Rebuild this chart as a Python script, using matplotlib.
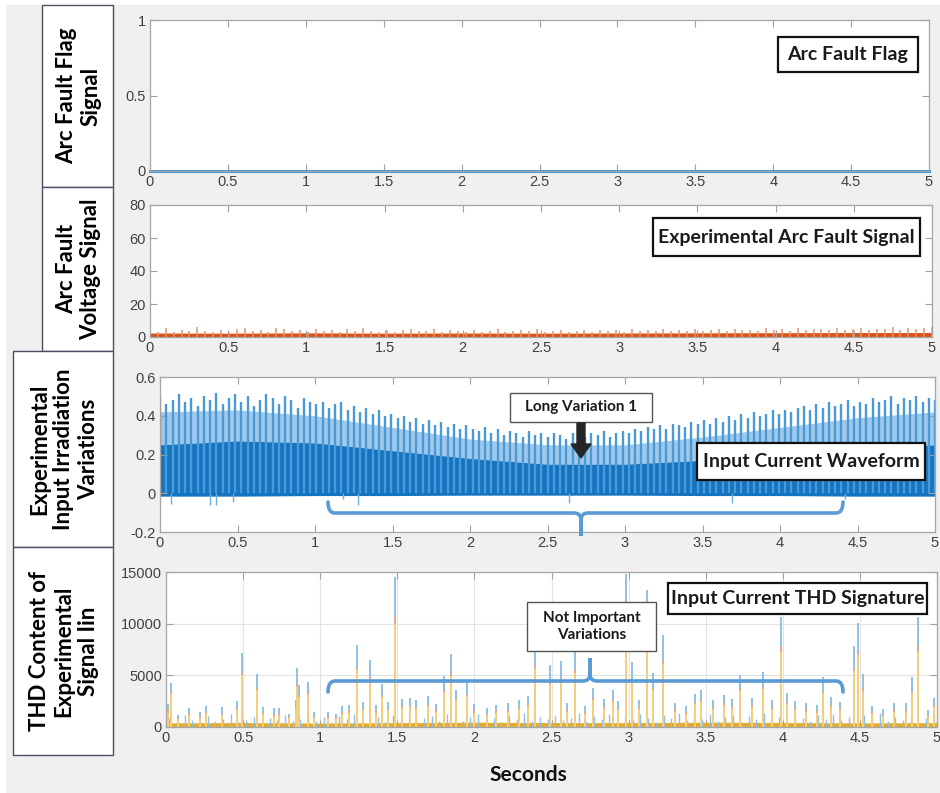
import numpy as np
import matplotlib
matplotlib.use("Agg")
import matplotlib.pyplot as plt
from matplotlib.patches import Rectangle, PathPatch, FancyArrow
from matplotlib.path import Path

# ---------------- data ----------------
x_ticks = [0, 0.5, 1, 1.5, 2, 2.5, 3, 3.5, 4, 4.5, 5]
x_ticklabels = ["0", "0.5", "1", "1.5", "2", "2.5", "3", "3.5", "4", "4.5", "5"]

# panel 1: arc fault flag
flag_t = [0, 5]
flag_v = [0, 0]
flag_yticks = [0, 0.5, 1]
flag_yticklabels = ["0", "0.5", "1"]

# panel 2: arc fault voltage (peaks of the noise, and the dense band top)
arc_peak = [4.8, 3.2, 5.6, 3.0, 4.1, 3.5, 5.9, 3.8, 3.1, 4.4,
            3.3, 4.9, 5.2, 3.6, 4.0, 3.2, 5.5, 4.6, 3.4, 4.2,
            3.1, 5.0, 3.7, 4.3, 3.0, 4.8, 3.5, 5.3, 3.9, 3.3,
            4.5, 3.2, 4.0, 5.1, 3.4, 3.8, 4.7, 3.1, 4.2, 3.6,
            3.3, 4.4, 3.0, 3.9, 4.6, 3.2, 3.7, 4.1, 3.4, 4.8,
            3.1, 3.6, 4.3, 3.3, 3.9, 4.5, 3.2, 4.0, 3.5, 4.2,
            3.3, 4.6, 3.8, 4.1, 3.4, 4.9, 3.6, 4.4, 3.9, 5.0,
            3.5, 4.2, 4.7, 3.8, 5.1, 4.0, 4.5, 3.7, 5.4, 4.3,
            4.8, 3.9, 5.6, 4.2, 4.6, 5.0, 4.1, 5.3, 4.4, 4.9,
            5.5, 4.3, 5.0, 4.7, 5.8, 4.5, 5.2, 4.8, 5.6, 6.0]
arc_env_t = [0, 0.5, 1, 1.5, 2, 2.5, 3, 3.5, 4, 4.5, 5]
arc_band = [2.4, 2.3, 2.5, 2.3, 2.4, 2.3, 2.4, 2.5, 2.6, 2.7, 2.7]
arc_yticks = [0, 20, 40, 60, 80]
arc_yticklabels = ["0", "20", "40", "60", "80"]

# panel 3: input current waveform
cur_peak = [0.50, 0.46, 0.48, 0.51, 0.47, 0.49, 0.45, 0.50, 0.48, 0.52, 0.46, 0.49, 0.51,
            0.47, 0.50, 0.45, 0.48, 0.51, 0.49, 0.46, 0.50, 0.48, 0.44, 0.49, 0.47,
            0.46, 0.47, 0.44, 0.46, 0.47, 0.43, 0.45, 0.42, 0.44, 0.41, 0.43, 0.40, 0.41,
            0.39, 0.40, 0.37, 0.39, 0.36, 0.38, 0.35, 0.37, 0.34, 0.36, 0.33, 0.35,
            0.33, 0.32, 0.34, 0.31, 0.33, 0.30, 0.32, 0.31, 0.29, 0.32, 0.30, 0.31, 0.29,
            0.31, 0.30, 0.28, 0.31, 0.30, 0.29, 0.31, 0.30, 0.32, 0.29, 0.31, 0.32,
            0.31, 0.33, 0.32, 0.34, 0.33, 0.35, 0.33, 0.36, 0.35, 0.34, 0.37, 0.36, 0.38,
            0.36, 0.39, 0.37, 0.40, 0.38, 0.41, 0.39, 0.42, 0.40, 0.41, 0.43, 0.41,
            0.43, 0.42, 0.44, 0.45, 0.43, 0.46, 0.44, 0.47, 0.45, 0.46, 0.48, 0.45, 0.47,
            0.46, 0.49, 0.47, 0.48, 0.50, 0.46, 0.49, 0.48, 0.50, 0.47, 0.49, 0.48]
cur_env_t = [0, 0.5, 1, 1.5, 2, 2.5, 3, 3.5, 4, 4.5, 5]
cur_mid = [0.42, 0.43, 0.40, 0.34, 0.28, 0.25, 0.25, 0.29, 0.34, 0.39, 0.42]
cur_band = [0.25, 0.27, 0.26, 0.22, 0.18, 0.15, 0.15, 0.17, 0.20, 0.23, 0.25]
cur_low = [-0.015, -0.015, -0.012, -0.012, -0.01, -0.01, -0.01, -0.012, -0.012, -0.015, -0.015]
dip_t = [0.07, 0.32, 0.36, 0.47, 1.18, 1.28, 2.64, 3.69, 4.42]
dip_v = [-0.055, -0.06, -0.06, -0.045, -0.03, -0.06, -0.05, -0.05, -0.03]
cur_yticks = [-0.2, 0, 0.2, 0.4, 0.6]
cur_yticklabels = ["-0.2", "0", "0.2", "0.4", "0.6"]

# panel 4: THD signature spikes (time, blue, red, yellow)
thd_t = [0.01, 0.03, 0.08, 0.15, 0.22, 0.26, 0.36, 0.46, 0.49, 0.59, 0.63, 0.70, 0.73, 0.80,
         0.84, 0.85, 0.86, 0.92, 0.96, 1.05, 1.10, 1.14, 1.19, 1.24, 1.28, 1.32, 1.36, 1.40,
         1.44, 1.486, 1.53, 1.58, 1.62, 1.70, 1.75, 1.80, 1.85, 1.88, 1.95, 2.00, 2.08, 2.14,
         2.22, 2.29, 2.35, 2.39, 2.49, 2.56, 2.60, 2.65, 2.72, 2.77, 2.84, 2.90, 2.93, 2.98,
         3.02, 3.07, 3.12, 3.16, 3.22, 3.30, 3.37, 3.43, 3.47, 3.55, 3.62, 3.67, 3.72, 3.80,
         3.87, 3.93, 3.99, 4.03, 4.08, 4.15, 4.22, 4.26, 4.31, 4.37, 4.46, 4.49, 4.52, 4.58,
         4.65, 4.72, 4.80, 4.84, 4.88, 4.94, 4.98]
thd_blue = [2200, 4300, 1200, 1800, 1500, 2000, 1900, 2500, 7200, 5100, 1900, 1800, 1800, 1300,
            2600, 5700, 4100, 4400, 1500, 1500, 1300, 2000, 2100, 7900, 2400, 6500, 2100, 4200,
            2400, 14500, 2700, 2800, 2600, 3000, 2200, 4900, 7100, 3600, 4400, 2200, 1800, 2100,
            2300, 2600, 3000, 8100, 6000, 6400, 2300, 7500, 2000, 3800, 2700, 3600, 2500, 14800,
            6300, 2600, 13300, 5200, 8900, 2300, 2000, 3200, 3600, 2600, 3100, 2700, 5000, 2800,
            5300, 2600, 10600, 3300, 2500, 2300, 2100, 4800, 2900, 2400, 7800, 10100, 5100, 2000,
            1700, 2300, 2300, 4800, 10600, 1600, 2800]
thd_red = [1600, 3400, 900, 1400, 1100, 1500, 1300, 1800, 5200, 3800, 1500, 1300, 1400, 1000,
           1900, 4200, 3100, 3300, 1100, 1100, 1000, 1500, 1600, 5800, 1800, 4800, 1600, 3100,
           1800, 10700, 2000, 2100, 1900, 2200, 1700, 3600, 5200, 2700, 3200, 1600, 1300, 1600,
           1700, 1900, 2200, 6000, 4400, 4700, 1700, 5500, 1500, 2800, 2000, 2700, 1800, 10900,
           4600, 1900, 9800, 3800, 6500, 1700, 1500, 2400, 2600, 1900, 2300, 2000, 3700, 2100,
           3900, 1900, 7800, 2400, 1800, 1700, 1600, 3500, 2100, 1800, 5700, 7400, 3800, 1500,
           1300, 1700, 1700, 3500, 7800, 1200, 2100]
thd_yellow = [1400, 3200, 800, 1200, 900, 1300, 1200, 1600, 5000, 3600, 1300, 1100, 1200, 900,
              1700, 4000, 2900, 3100, 900, 900, 800, 1300, 1400, 5500, 1600, 4500, 1400, 2900,
              1600, 10000, 1800, 1900, 1700, 2000, 1500, 3400, 4900, 2500, 3000, 1400, 1200, 1400,
              1500, 1700, 2000, 5600, 4200, 4400, 1500, 5200, 1300, 2600, 1800, 2500, 1600, 10300,
              4300, 1700, 9200, 3600, 6100, 1500, 1300, 2200, 2400, 1700, 2100, 1800, 3500, 1900,
              3700, 1700, 7300, 2200, 1600, 1500, 1400, 3300, 1900, 1600, 5400, 7000, 3500, 1300,
              1100, 1500, 1500, 3300, 7300, 1000, 1900]
thd_small = [900, 500, 1200, 700, 400, 1100, 600, 800, 1300, 500, 700, 1000, 450, 900, 650,
             1200, 550, 800, 1400, 600, 950, 500, 1100, 750, 1300, 600, 850, 1000, 500, 1200,
             700, 1400, 650, 900, 1100, 550, 1300, 800, 600, 1000, 1250, 700, 900, 500, 1150,
             800, 1350, 600, 1000, 750, 1200, 650, 900, 1400, 550, 1100, 800, 1300, 600, 1000,
             700, 1250, 850, 500, 1150, 900, 1400, 650, 1050, 750, 1300, 600, 950, 1200, 500,
             1100, 800, 1350, 700, 1000, 600, 1250, 900, 550, 1150, 750, 1300, 650, 1000, 500,
             1200, 800, 1400, 600, 950, 700, 1100, 550, 850, 1250]
thd_env_t = [0, 0.5, 1, 1.5, 2, 2.5, 3, 3.5, 4, 4.5, 5]
thd_band = [400, 430, 380, 420, 460, 430, 420, 460, 440, 400, 420]
thd_yticks = [0, 5000, 10000, 15000]
thd_yticklabels = ["0", "5000", "10000", "15000"]

# ---------------- layout helpers ----------------
W, H = 940, 793
fig = plt.figure(figsize=(W / 100, H / 100), dpi=100, facecolor="white")

BOLD = ["Lato", "DejaVu Sans"]
TICKF = ["Liberation Sans", "DejaVu Sans"]


def ax_px(l, t, r, b):
    return fig.add_axes([l / W, 1 - b / H, (r - l) / W, (b - t) / H])


def rect_px(x0, y0, x1, y1, **kw):
    r = Rectangle((x0 / W, 1 - y1 / H), (x1 - x0) / W, (y1 - y0) / H,
                  transform=fig.transFigure, **kw)
    fig.add_artist(r)
    return r


def text_px(x, y, s, **kw):
    fig.text(x / W, 1 - y / H, s, ha="center", va="center", **kw)


def fpt(x, y):
    return (x / W, 1 - y / H)


# grey background
rect_px(6, 5, 940, 793, facecolor="#f0f0f0", edgecolor="none", zorder=-5)


def style_axes(ax, yticks, yticklabels, ylim, grid=False):
    ax.set_xlim(0, 5)
    ax.set_ylim(*ylim)
    ax.set_xticks(x_ticks)
    ax.set_xticklabels(x_ticklabels, family=TICKF, fontsize=10.5, color="#404040")
    ax.set_yticks(yticks)
    ax.set_yticklabels(yticklabels, family=TICKF, fontsize=10.5, color="#404040")
    ax.tick_params(direction="in", length=5, width=0.8, color="#a0a0a0",
                   top=True, right=True, pad=3)
    for s in ax.spines.values():
        s.set_color("#a6a6a6")
        s.set_linewidth(0.9)
    if grid:
        ax.grid(True, color="#e3e3e3", linewidth=0.8)
        ax.set_axisbelow(True)


# ---- panel 1
ax1 = ax_px(150, 20, 929, 171)
ax1.plot(flag_t, flag_v, color="#3f97d8", linewidth=2.2, clip_on=False)
style_axes(ax1, flag_yticks, flag_yticklabels, (0, 1))

# ---- panel 2
ax2 = ax_px(150, 205, 932, 337)
arc_t = np.linspace(0, 5, len(arc_peak))
ax2.vlines(arc_t, 0, arc_peak, color="#e8926c", linewidth=1.1)
ax2.fill_between(arc_env_t, 0, arc_band, color="#d95319", linewidth=0)
style_axes(ax2, arc_yticks, arc_yticklabels, (0, 80))

# ---- panel 3
ax3 = ax_px(160, 377, 935, 532)
cur_t = np.linspace(0, 5, len(cur_peak))
ax3.fill_between(cur_env_t, cur_band, cur_mid, color="#9fc8ea", linewidth=0)
ax3.vlines(cur_t, 0, cur_peak, color="#4b9ad8", linewidth=1.7)
ax3.vlines(dip_t, 0, dip_v, color="#6aaee2", linewidth=1.0)
ax3.fill_between(cur_env_t, cur_low, cur_band, color="#1574c0", linewidth=0)
style_axes(ax3, cur_yticks, cur_yticklabels, (-0.2, 0.6))

# ---- panel 4
ax4 = ax_px(166, 572, 937, 727)
small_t = np.linspace(0.02, 4.98, len(thd_small))
ax4.vlines(small_t, 0, thd_small, color="#8fc0e6", linewidth=1.0)
ax4.vlines(thd_t, 0, thd_blue, color="#86bce6", linewidth=1.3)
ax4.vlines(thd_t, 0, thd_red, color="#efa587", linewidth=1.3)
ax4.vlines(thd_t, 0, thd_yellow, color="#f7d27a", linewidth=1.3)
ax4.fill_between(thd_env_t, 0, thd_band, color="#e3ac2a", linewidth=0)
style_axes(ax4, thd_yticks, thd_yticklabels, (0, 15000), grid=True)

# ---------------- left label boxes ----------------
boxes = [
    ((42, 5, 113, 187), "Arc Fault Flag\nSignal"),
    ((42, 187, 113, 351), "Arc Fault\nVoltage Signal"),
    ((13, 351, 113, 547), "Experimental\nInput Irradiation\nVariations"),
    ((13, 547, 113, 755), "THD Content of\nExperimental\nSignal Iin"),
]
for (x0, y0, x1, y1), s in boxes:
    rect_px(x0, y0, x1, y1, facecolor="white", edgecolor="#4a5060", linewidth=1.0, zorder=3)
    text_px((x0 + x1) / 2 + 1, (y0 + y1) / 2, s, rotation=90, family=BOLD,
            fontweight="bold", fontsize=16, linespacing=1.2, zorder=4, multialignment="center")

# ---------------- annotation boxes ----------------
ann = [
    ((778, 37, 918, 72), "Arc Fault Flag", 14, "#111111", 1.6),
    ((653, 218, 920, 256), "Experimental Arc Fault Signal", 14, "#111111", 1.6),
    ((510, 393, 652, 422), "Long Variation 1", 11, "#555555", 1.0),
    ((697, 443, 925, 480), "Input Current Waveform", 14, "#111111", 1.6),
    ((668, 583, 927, 614), "Input Current THD Signature", 14, "#111111", 1.6),
    ((527, 602, 656, 651), "Not Important\nVariations", 11, "#555555", 1.0),
]
for (x0, y0, x1, y1), s, fs, ec, lw in ann:
    rect_px(x0, y0, x1, y1, facecolor="white", edgecolor=ec, linewidth=lw, zorder=6)
    text_px((x0 + x1) / 2, (y0 + y1) / 2, s, family=BOLD, fontweight="bold",
            fontsize=fs, color="#1a1a1a", zorder=7, linespacing=1.3)

# black arrow (panel 3)
x0, y0 = fpt(581, 423)
x1, y1 = fpt(581, 458)
arr = FancyArrow(x0, y0, 0, y1 - y0, width=8 / W, head_width=20 / W, head_length=14 / H,
                 length_includes_head=True, transform=fig.transFigure,
                 facecolor="#262626", edgecolor="#262626", zorder=7)
fig.add_artist(arr)


def brace(xl, xr, xm, ybar, yend, ytip):
    r = 7
    tsg = 1 if ytip > ybar else -1
    verts = [
        (xl, yend), (xl, ybar), (xl + r, ybar),
        (xm - r, ybar), (xm, ybar), (xm, ybar + tsg * r),
        (xm, ytip), (xm, ybar + tsg * r), (xm, ybar), (xm + r, ybar),
        (xr - r, ybar), (xr, ybar), (xr, yend),
    ]
    codes = [Path.MOVETO, Path.CURVE3, Path.CURVE3,
             Path.LINETO, Path.CURVE3, Path.CURVE3,
             Path.LINETO, Path.LINETO, Path.CURVE3, Path.CURVE3,
             Path.LINETO, Path.CURVE3, Path.CURVE3]
    p = Path([fpt(x, y) for x, y in verts], codes)
    fig.add_artist(PathPatch(p, facecolor="none", edgecolor="#5b9bd5", linewidth=2.6,
                             transform=fig.transFigure, zorder=6, capstyle="round"))


brace(328, 843, 581, 513, 502, 536)
brace(328, 843, 590, 681, 692, 658)

text_px(528, 775, "Seconds", family=BOLD, fontweight="bold", fontsize=15, color="#111111")

fig.savefig("out.png", dpi=100, facecolor="white")
